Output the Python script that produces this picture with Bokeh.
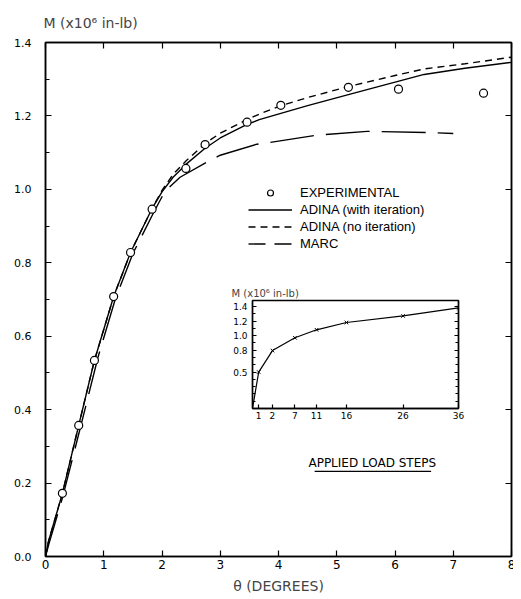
from bokeh.plotting import figure
from bokeh.models import Range1d, FixedTicker, LinearAxis, Legend, LegendItem, Label
from bokeh.embed import file_html
from bokeh.resources import INLINE
from jinja2 import Template

FONT = "DejaVu Sans"
LFONT = "Liberation Sans"

# ---------------- data ----------------
theta_exp = [0.29, 0.57, 0.84, 1.17, 1.46, 1.83, 2.41, 2.74, 3.46, 4.04, 5.20, 6.06, 7.52]
m_exp = [0.172, 0.357, 0.534, 0.708, 0.828, 0.946, 1.057, 1.122, 1.183, 1.229, 1.278, 1.273, 1.262]

theta_adina_it = [0.0, 0.05, 0.29, 0.57, 0.84, 1.17, 1.46, 1.83, 2.0, 2.19, 2.41, 2.74, 3.0, 3.46,
                  3.67, 4.04, 4.5, 5.2, 5.6, 6.5, 7.2, 8.0]
m_adina_it = [0.0, 0.04, 0.172, 0.357, 0.534, 0.708, 0.828, 0.948, 0.993, 1.033, 1.068, 1.112, 1.14,
              1.177, 1.19, 1.207, 1.228, 1.258, 1.275, 1.313, 1.33, 1.346]

theta_adina_noit = [0.0, 0.05, 0.29, 0.57, 0.84, 1.17, 1.46, 1.83, 2.0, 2.19, 2.41, 2.74, 3.0, 3.46,
                    3.67, 4.04, 4.5, 5.2, 6.0, 6.5, 7.2, 8.0]
m_adina_noit = [0.0, 0.04, 0.172, 0.357, 0.534, 0.708, 0.828, 0.948, 0.997, 1.041, 1.077, 1.125, 1.153,
                1.19, 1.205, 1.228, 1.25, 1.28, 1.31, 1.328, 1.342, 1.36]

theta_marc = [0.0, 0.06, 0.3, 0.6, 0.9, 1.2, 1.5, 1.85, 2.05, 2.31, 2.79, 3.0, 3.63, 3.86, 4.63,
              5.52, 6.55, 7.0]
m_marc = [0.0, 0.035, 0.165, 0.352, 0.542, 0.702, 0.825, 0.935, 0.995, 1.033, 1.076, 1.093, 1.123,
          1.128, 1.147, 1.158, 1.155, 1.152]

x_ticks = [0, 1, 2, 3, 4, 5, 6, 7, 8]
y_ticks = [0.0, 0.2, 0.4, 0.6, 0.8, 1.0, 1.2, 1.4]
y_tick_labels = ["0.0", "0.2", "0.4", "0.6", "0.8", "1.0", "1.2", "1.4"]
y_minor = [0.1, 0.3, 0.5, 0.7, 0.9, 1.1, 1.3]

# inset: moment vs applied load steps
step_labels = ["1", "2", "7", "11", "16", "26", "36"]
load_frac = [0.03, 0.097, 0.206, 0.311, 0.456, 0.731, 1.0]
m_steps = [0.50, 0.795, 0.97, 1.08, 1.18, 1.27, 1.38]
inset_y_ticks = [0.5, 0.8, 1.0, 1.2, 1.4]
inset_y_labels = ["0.5", "0.8", "1.0", "1.2", "1.4"]
inset_y_minor = [0.1, 0.2, 0.3, 0.4, 0.6, 0.7, 0.9, 1.1, 1.3]

# ---------------- main figure ----------------
p = figure(width=510, height=598, x_range=Range1d(0, 8), y_range=Range1d(0, 1.4),
           output_backend="svg", toolbar_location=None,
           min_border_left=37, min_border_right=7, min_border_top=42, min_border_bottom=42)
p.name = "main"
p.xgrid.visible = False
p.ygrid.visible = False
p.outline_line_color = "black"
p.outline_line_width = 1.5
p.background_fill_color = "white"
p.border_fill_color = "white"

p.title.text = "M  (x10\u2076 in-lb)"
p.title.align = "left"
p.title.offset = -2
p.title.standoff = 24
p.title.text_font = FONT
p.title.text_font_size = "14px"
p.title.text_font_style = "normal"

def style_axis(ax, font_size, standoff):
    ax.axis_line_width = 1.5
    ax.axis_line_color = "black"
    ax.major_tick_in = 6
    ax.major_tick_out = 0
    ax.minor_tick_in = 4
    ax.minor_tick_out = 0
    ax.major_tick_line_width = 1.2
    ax.minor_tick_line_width = 1.0
    ax.major_label_text_font = FONT
    ax.major_label_text_font_size = font_size
    ax.major_label_text_color = "black"
    ax.major_label_standoff = standoff

xb = p.xaxis[0]
xb.ticker = FixedTicker(ticks=x_ticks, minor_ticks=[])
style_axis(xb, "12px", 3)
xb.axis_label = "\u03b8 (DEGREES)"
xb.axis_label_text_font = FONT
xb.axis_label_text_font_size = "14px"
xb.axis_label_text_font_style = "normal"
xb.axis_label_standoff = 6

yl = p.yaxis[0]
yl.ticker = FixedTicker(ticks=y_ticks, minor_ticks=y_minor)
style_axis(yl, "11px", 14)
yl.major_label_overrides = {t: s for t, s in zip(y_ticks, y_tick_labels)}

xt = LinearAxis(ticker=FixedTicker(ticks=x_ticks, minor_ticks=[]))
style_axis(xt, "1px", 0)
xt.major_label_overrides = {t: "" for t in x_ticks}
p.add_layout(xt, "above")

yr = LinearAxis(ticker=FixedTicker(ticks=y_ticks, minor_ticks=[]))
style_axis(yr, "1px", 0)
yr.major_label_overrides = {t: "" for t in y_ticks}
p.add_layout(yr, "right")

LW = 1.4
r_it = p.line(theta_adina_it, m_adina_it, line_color="black", line_width=LW)
r_noit = p.line(theta_adina_noit, m_adina_noit, line_color="black", line_width=LW, line_dash="7 5")
r_marc = p.line(theta_marc, m_marc, line_color="black", line_width=LW, line_dash="44 12")
r_exp = p.scatter(theta_exp, m_exp, marker="circle", size=8, fill_color="white",
                  line_color="black", line_width=1.2)

# legend key for MARC uses the shorter dash seen in the key
nan = float("nan")
lg_marc = p.line([nan], [nan], line_color="black", line_width=LW, line_dash="17 9")

legend = Legend(items=[
    LegendItem(label="EXPERIMENTAL", renderers=[r_exp]),
    LegendItem(label="ADINA (with iteration)", renderers=[r_it]),
    LegendItem(label="ADINA (no iteration)", renderers=[r_noit]),
    LegendItem(label="MARC", renderers=[lg_marc]),
], location=(203, 305), padding=0, margin=0, spacing=2, glyph_width=44, glyph_height=15,
   label_height=15, label_standoff=8, label_text_font=LFONT, label_text_font_size="13px",
   label_text_color="black", background_fill_alpha=0, border_line_color=None)
p.add_layout(legend)

lbl = Label(x=5.61, y=0.256, text="APPLIED LOAD STEPS", text_font=FONT, text_font_size="12px",
            text_align="center", text_baseline="middle", text_color="black")
p.add_layout(lbl)
p.segment(x0=[4.62], y0=[0.232], x1=[6.62], y1=[0.232], line_color="black", line_width=1.3)

# ---------------- inset figure ----------------
ins = figure(width=248, height=148, x_range=Range1d(0, 1), y_range=Range1d(0, 1.482),
             output_backend="svg", toolbar_location=None,
             min_border_left=30, min_border_right=12, min_border_top=18, min_border_bottom=22)
ins.name = "inset"
ins.xgrid.visible = False
ins.ygrid.visible = False
ins.outline_line_color = "black"
ins.outline_line_width = 1.3
ins.border_fill_alpha = 0
ins.background_fill_color = "white"

ins.title.text = "M (x10\u2076 in-lb)"
ins.title.align = "left"
ins.title.offset = -21
ins.title.standoff = 3
ins.title.text_font = FONT
ins.title.text_font_size = "10px"
ins.title.text_font_style = "normal"

ixb = ins.xaxis[0]
ixb.ticker = FixedTicker(ticks=load_frac, minor_ticks=[])
style_axis(ixb, "9px", 3)
ixb.major_tick_in = 4
ixb.major_label_overrides = {t: s for t, s in zip(load_frac, step_labels)}

iyl = ins.yaxis[0]
iyl.ticker = FixedTicker(ticks=inset_y_ticks, minor_ticks=inset_y_minor)
style_axis(iyl, "9px", 5)
iyl.major_tick_in = 4
iyl.minor_tick_in = 3
iyl.major_label_overrides = {t: s for t, s in zip(inset_y_ticks, inset_y_labels)}

iyr = LinearAxis(ticker=FixedTicker(ticks=inset_y_ticks, minor_ticks=inset_y_minor))
style_axis(iyr, "1px", 0)
iyr.major_tick_in = 4
iyr.minor_tick_in = 3
iyr.major_label_overrides = {t: "" for t in inset_y_ticks}
ins.add_layout(iyr, "right")

ins.line([0.0] + load_frac, [0.0] + m_steps, line_color="black", line_width=1.2)
ins.scatter(load_frac, m_steps, marker="x", size=5, line_color="black", line_width=1.0)

# ---------------- page ----------------
template = Template("""{% from macros import embed %}
<!DOCTYPE html>
<html lang="en">
<head>
<meta charset="utf-8">
<title>Moment-rotation</title>
{{ bokeh_css if bokeh_css }}
{{ bokeh_js if bokeh_js }}
</head>
<body style="margin:8px;">
<div style="position:relative; width:505px; height:590px;">
<div style="position:absolute; left:0px; top:-8px;">{{ embed(roots.main) }}</div>
<div style="position:absolute; left:214px; top:274px;">{{ embed(roots.inset) }}</div>
</div>
{{ plot_script }}
</body>
</html>""")

open("out.html", "w").write(file_html([p, ins], INLINE, template=template))
